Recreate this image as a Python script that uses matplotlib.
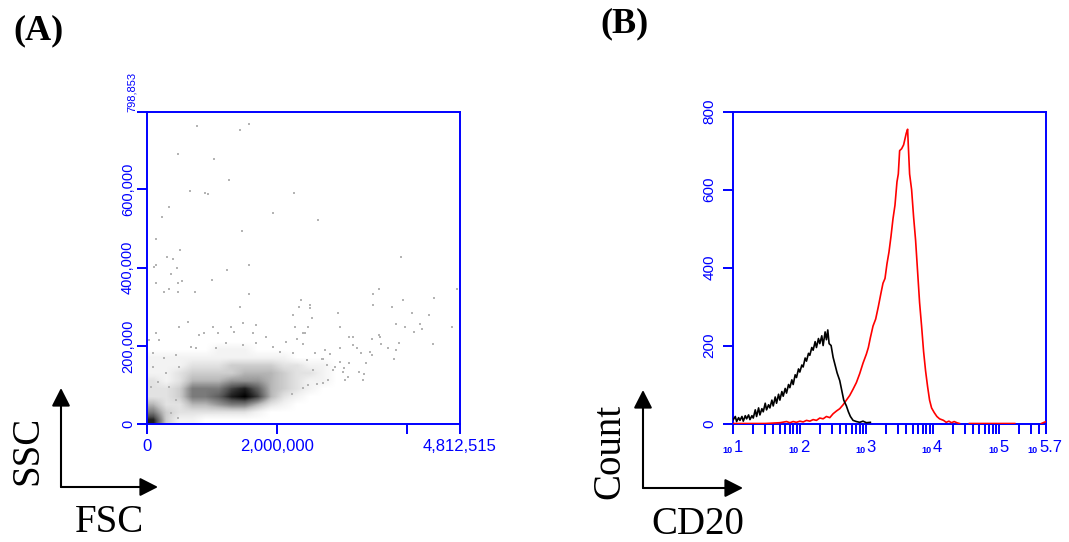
import numpy as np
import matplotlib
matplotlib.use('Agg')
import matplotlib.pyplot as plt
from matplotlib import transforms

W, H = 1069, 542
BLUE = '#0000ff'
plt.rcParams['font.family'] = ['Liberation Sans', 'DejaVu Sans']

# ---------- panel A : FSC / SSC dot plot ----------
fsc_max, ssc_max = 4812515, 798853

# grey level of the dense part (0 = white .. 10 = black)
# columns: FSC 0 - 3.0M in 0.2M steps, rows: SSC 0 - 260k in 20k steps (bottom row first)
core_extent = (0, 3.0e6, 0, 2.6e5)
core_density = [
    [9, 3, 1, 1, 0, 0, 0, 0, 0, 0, 0, 0, 0, 0, 0],
    [6, 3, 2, 2, 2, 2, 2, 2, 1, 0, 0, 0, 0, 0, 0],
    [4, 2, 2, 4, 4, 5, 6, 6, 4, 2, 1, 0, 0, 0, 0],
    [2, 2, 3, 6, 6, 7, 9, 10, 8, 4, 2, 1, 0, 0, 0],
    [2, 2, 3, 6, 6, 6, 8, 9, 7, 4, 3, 2, 1, 0, 0],
    [2, 1, 2, 4, 4, 4, 5, 5, 5, 4, 3, 2, 1, 1, 0],
    [1, 1, 2, 3, 3, 3, 3, 4, 4, 4, 3, 2, 2, 1, 0],
    [1, 1, 1, 2, 2, 2, 3, 3, 3, 3, 2, 2, 1, 1, 0],
    [1, 1, 1, 1, 1, 1, 1, 1, 1, 1, 1, 0, 0, 0, 0],
    [0, 0, 0, 0, 0, 1, 1, 1, 0, 0, 0, 0, 0, 0, 0],
    [0, 0, 0, 0, 0, 0, 0, 0, 0, 0, 0, 0, 0, 0, 0],
    [0, 0, 0, 0, 0, 0, 0, 0, 0, 0, 0, 0, 0, 0, 0],
    [0, 0, 0, 0, 0, 0, 0, 0, 0, 0, 0, 0, 0, 0, 0],
]

# single events outside the dense part (thousands)
fsc_k = [773, 1433, 1571, 486, 1029, 1259, 660, 891, 946, 2258, 343, 230, 1940, 2627,
         1459, 147, 516, 316, 404, 117, 147, 1571, 461, 1229, 3906, 373, 1003, 147, 486,
         542, 261, 347, 486, 747, 1571, 3569, 3482, 4762, 4418, 3937, 2370, 2340, 2508,
         1428, 3482, 3764,
         4685, 4393, 4341, 4224, 4193, 4110, 4080, 3968, 3881, 3826, 3799, 3826, 3712,
         3600, 3584, 3569, 3456, 3456, 3430, 3369, 3318, 3338, 3287, 3261, 3226, 3174,
         3164, 3112, 3112, 3097, 3046, 3031, 3020, 2970, 2970, 2940, 2970, 2892, 2866,
         2815, 2789, 2764, 2738, 2712, 2712, 2687, 2610, 2584, 2559, 2533, 2507, 2482,
         2456, 2430, 2405, 2395, 2302, 2277, 2251, 2227, 2405, 2482,
         501, 630, 1014, 1295, 1475, 1679, 808, 885, 1090, 1346, 1628, 1833, 143, 194,
         681, 757, 1065, 1218, 1475, 1679, 1936, 2140, 92, 270, 450, 501, 296, 169, 66,
         347, 450, 373, 476, 92, 40, 2240, 2040]
ssc_k = [762, 753, 767, 691, 677, 625, 597, 592, 588, 592, 554, 530, 540, 521,
         493, 473, 445, 426, 421, 402, 407, 407, 398, 393, 426, 384, 369, 360, 360,
         365, 337, 345, 337, 337, 332, 345, 332, 345, 322, 317, 317, 299, 304,
         299, 304, 299,
         247, 204, 279, 242, 255, 236, 283, 247, 208, 255, 166, 189, 194,
         204, 223, 228, 217, 176, 185, 155, 112, 128, 181, 134, 194, 202,
         223, 222, 155, 121, 112, 142, 134, 159, 194, 283, 247, 147, 138,
         179, 112, 151, 189, 165, 104, 165, 102, 181, 138, 270, 298, 247,
         164, 232, 205, 232, 217, 247, 279, 76, 91, 100,
         249, 262, 249, 249, 258, 253, 228, 232, 232, 236, 232, 223, 232, 215,
         198, 194, 194, 206, 202, 206, 198, 211, 181, 168, 176, 147, 130, 108, 95,
         95, 61, 27, 15, 147, 215, 181, 185]

# ---------- panel B : CD20 histogram ----------
# log10 of channel, counts
iso_log = [1.00, 1.03, 1.05, 1.08, 1.10, 1.13, 1.15, 1.18, 1.20, 1.23, 1.25, 1.28, 1.30,
           1.33, 1.35, 1.38, 1.40, 1.43, 1.45, 1.48, 1.50, 1.53, 1.55, 1.58, 1.60, 1.63,
           1.65, 1.68, 1.70, 1.73, 1.75, 1.78, 1.80, 1.83, 1.85, 1.88, 1.90, 1.93, 1.95,
           1.98, 2.00, 2.03, 2.05, 2.08, 2.10, 2.13, 2.15, 2.18, 2.20, 2.23, 2.25, 2.28,
           2.30, 2.33, 2.35, 2.38, 2.40, 2.42, 2.44, 2.47, 2.50, 2.53, 2.56, 2.60, 2.63,
           2.66, 2.70, 2.73, 2.76, 2.80, 2.85, 2.90, 2.95, 3.00, 3.06]
iso_count = [10, 18, 5, 15, 8, 18, 6, 20, 12, 22, 10, 20, 14,
             35, 18, 40, 22, 38, 30, 52, 35, 48, 40, 60, 45, 68,
             52, 75, 60, 82, 70, 90, 78, 100, 92, 112, 100, 125, 118,
             140, 132, 150, 145, 168, 160, 180, 175, 195, 188, 210, 195, 218,
             205, 225, 200, 235, 215, 240, 205, 200, 170, 150, 130, 110, 85,
             60, 45, 30, 18, 8, 5, 3, 6, 2, 3]

cd20_log = [1.00, 1.40, 1.48, 1.70, 1.80, 1.85, 1.90, 1.95, 2.00, 2.05, 2.10, 2.15, 2.20,
            2.25, 2.30, 2.35, 2.40, 2.45, 2.50, 2.55, 2.60, 2.65, 2.70, 2.75, 2.80, 2.85,
            2.90, 2.95, 3.00, 3.03, 3.06, 3.10, 3.14, 3.18, 3.22, 3.25, 3.28, 3.31, 3.34,
            3.37, 3.40, 3.43, 3.46, 3.48, 3.50, 3.53, 3.56, 3.58, 3.60, 3.62, 3.63, 3.65,
            3.68, 3.71, 3.74, 3.77, 3.80, 3.83, 3.86, 3.89, 3.92, 3.95, 3.98, 4.02, 4.06,
            4.10, 4.16, 4.20, 4.24, 4.28, 4.32, 4.36, 4.40, np.nan, 4.55, 5.23, np.nan,
            5.63, 5.70]
cd20_count = [0, 0, 0, 2, 5, 2, 5, 3, 6, 4, 8, 6, 10,
              8, 14, 12, 18, 15, 25, 32, 38, 48, 60, 72, 88, 105,
              128, 155, 178, 195, 220, 250, 268, 300, 335, 360, 372, 410, 440,
              480, 525, 560, 620, 640, 700, 705, 715, 730, 745, 755, 715, 640,
              600, 530, 470, 390, 310, 250, 185, 135, 95, 60, 40, 28, 18,
              12, 8, 3, 6, 2, 5, 2, 0, np.nan, 0, 0, np.nan,
              0, 5]

decades = [1, 2, 3, 4, 5, 5.7]
decade_labels = ['1', '2', '3', '4', '5', '5.7']


def blue_frame(ax):
    for s in ax.spines.values():
        s.set_color(BLUE)
        s.set_linewidth(1.4)
    ax.tick_params(colors=BLUE, direction='out', length=7.5, width=1.4)


fig = plt.figure(figsize=(W / 100, H / 100), dpi=100)
axA = fig.add_axes([146.7 / W, 1 - 424 / H, (460 - 146.7) / W, (424 - 111.7) / H])
axB = fig.add_axes([733.3 / W, 1 - 423.5 / H, (1046 - 733.3) / W, (423.5 - 111.7) / H])

# --- A ---
axA.imshow(core_density, extent=core_extent, origin='lower', aspect='auto',
           cmap='Greys', vmin=0, vmax=10, interpolation='bilinear', zorder=1)
axA.scatter(np.array(fsc_k) * 1000, np.array(ssc_k) * 1000, s=2.5, marker='s',
            c='#b4b4b4', linewidths=0, zorder=2)
axA.set_xlim(0, fsc_max)
axA.set_ylim(0, ssc_max)
blue_frame(axA)
axA.set_xticks([0, 2e6, 4e6, fsc_max])
axA.set_xticklabels(['0', '2,000,000', '', '4,812,515'], fontsize=12)
axA.set_yticks([0, 2e5, 4e5, 6e5, ssc_max])
axA.set_yticklabels(['0', '200,000', '400,000', '600,000', ''], fontsize=10.5,
                    rotation=90, va='center')
axA.tick_params(axis='x', pad=3)
axA.tick_params(axis='y', pad=1)
axA.text(-0.030, 1.0, '798,853', transform=axA.transAxes, rotation=90, ha='right',
         va='bottom', fontsize=8, color=BLUE)

# --- B ---
axB.plot(np.power(10.0, cd20_log), cd20_count, color='red', lw=1.2, zorder=3)
axB.plot(np.power(10.0, iso_log), iso_count, color='black', lw=1.2, zorder=4)
axB.set_xscale('log')
axB.set_xlim(10, 10 ** 5.7)
axB.set_ylim(0, 800)
blue_frame(axB)
axB.set_xticks(np.power(10.0, decades))
axB.set_xticklabels([''] * len(decades))
axB.xaxis.set_minor_locator(matplotlib.ticker.LogLocator(base=10, subs=range(2, 10)))
axB.xaxis.set_minor_formatter(matplotlib.ticker.NullFormatter())
axB.tick_params(axis='x', which='minor', colors=BLUE, direction='out', length=7.5, width=1.4)
axB.set_yticks([0, 200, 400, 600, 800])
axB.set_yticklabels(['0', '200', '400', '600', '800'], fontsize=11, rotation=90, va='center')
axB.tick_params(axis='y', pad=4.5)

xt = axB.get_xaxis_transform()
for d, lab in zip(decades, decade_labels):
    shift = -7 if lab == '5.7' else 0
    t_exp = transforms.offset_copy(xt, fig=fig, x=shift, y=0, units='dots')
    t_ten = transforms.offset_copy(xt, fig=fig, x=shift - 1, y=0, units='dots')
    axB.text(10 ** d, -0.092, lab, transform=t_exp, ha='left', va='baseline',
             fontsize=12, color=BLUE)
    axB.text(10 ** d, -0.095, '10', transform=t_ten, ha='right', va='baseline',
             fontsize=6.5, fontweight='bold', color=BLUE)

# --- panel letters and axis arrows ---
serif = ['Liberation Serif', 'DejaVu Serif']
fig.text(13 / W, 1 - 31 / H, '(A)', fontsize=26, fontweight='bold', family=serif,
         ha='left', va='center')
fig.text(600 / W, 1 - 24 / H, '(B)', fontsize=26, fontweight='bold', family=serif,
         ha='left', va='center')
fig.text(28 / W, 1 - 450 / H, 'SSC', fontsize=28, family=serif, rotation=90,
         ha='center', va='center')
fig.text(109 / W, 1 - 522 / H, 'FSC', fontsize=28, family=serif, ha='center', va='center')
fig.text(610 / W, 1 - 451 / H, 'Count', fontsize=28, family=serif, rotation=90,
         ha='center', va='center')
fig.text(698 / W, 1 - 525 / H, 'CD20', fontsize=28, family=serif, ha='center', va='center')

arrow = dict(arrowstyle='-|>,head_length=0.55,head_width=0.28', color='black', lw=1.5,
             mutation_scale=20, shrinkA=0, shrinkB=0)
for cx, cy, vx, vy, hx in [(61, 487, 61, 388, 158), (643, 488, 643, 390, 743)]:
    axA.annotate('', xy=(vx, H - vy), xytext=(cx, H - cy), xycoords='figure pixels',
                 textcoords='figure pixels', arrowprops=arrow, annotation_clip=False)
    axA.annotate('', xy=(hx, H - cy), xytext=(cx, H - cy), xycoords='figure pixels',
                 textcoords='figure pixels', arrowprops=arrow, annotation_clip=False)

fig.savefig('out.png', dpi=100)
